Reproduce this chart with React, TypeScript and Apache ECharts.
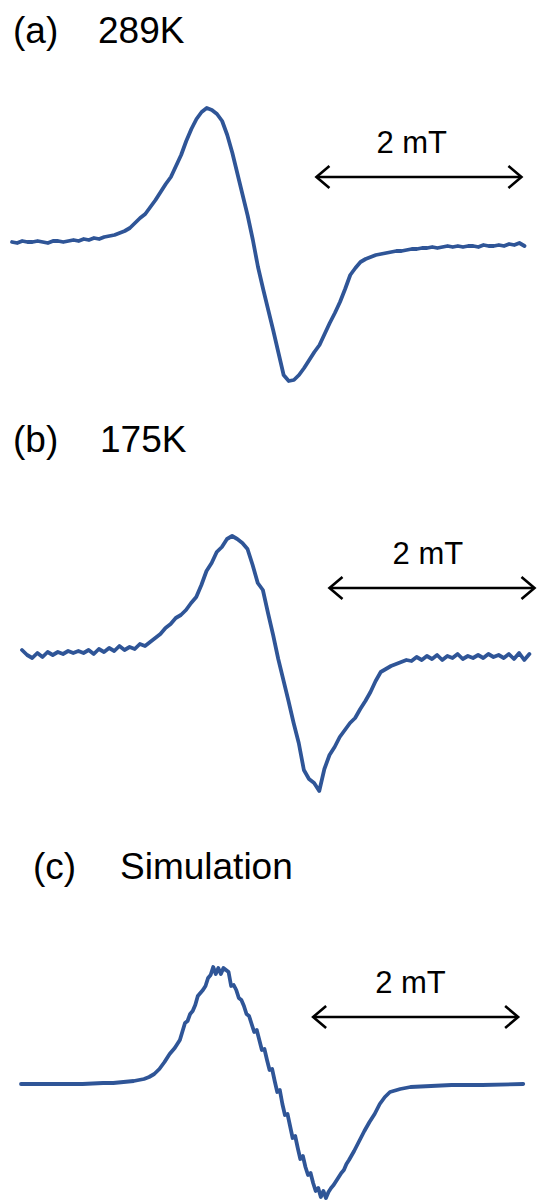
import React, { useEffect, useRef } from "react";
import * as echarts from "echarts";

// ---------- data ----------
// Field axis in mT (offset from the start of each sweep), intensity in arbitrary units.
const FIELD_STEP = 0.05; // mT between recorded points in (a) and (b)

// (a) 289 K spectrum
const SPEC_289K = [
  3, 2, 4, 3, 3, 4, 3, 2, 4, 4,
  3, 4, 5, 4, 6, 5, 7, 6, 8, 9,
  10, 12, 14, 17, 22, 27, 31, 38, 45, 53,
  61, 68, 79, 90, 104, 116, 126, 133, 137, 135,
  131, 124, 110, 92, 71, 50, 29, 5, -22, -44,
  -65, -86, -108, -130, -136, -135, -130, -123, -115, -107,
  -100, -89, -78, -68, -57, -44, -30, -23, -17, -14,
  -12, -10, -9, -8, -7, -6, -6, -5, -4, -4,
  -3, -3, -2, -3, -2, -1, -2, -1, -2, -1,
  -1, -2, 0, -1, -1, 0, -1, 1, 0, 2,
  -1,
];

// (b) 175 K spectrum
const SPEC_175K = [
  5, 0, -3, 2, -2, 3, 0, 3, 1, 4,
  2, 4, 2, 5, 1, 6, 3, 7, 4, 9,
  5, 8, 6, 11, 9, 13, 17, 21, 27, 31,
  37, 40, 45, 52, 58, 70, 84, 92, 103, 108,
  116, 119, 116, 112, 106, 90, 72, 65, 42, 20,
  -4, -25, -46, -68, -88, -115, -124, -128, -136, -114,
  -100, -92, -82, -75, -68, -63, -54, -46, -37, -26,
  -17, -14, -11, -9, -7, -5, -6, -2, -5, -1,
  -4, 0, -5, -1, -3, 1, -4, -1, -3, 0,
  -3, 1, -2, 0, -3, 1, -4, 2, -5, 1,
];

// (c) simulation (field, intensity)
const SIM_FIELD = [
  0, 0.2, 0.4, 0.6, 0.8, 0.9, 1.0, 1.1, 1.2, 1.25,
  1.3, 1.35, 1.4, 1.45, 1.5, 1.55,
  1.6, 1.625, 1.65, 1.675, 1.7, 1.725, 1.75, 1.775, 1.8, 1.825,
  1.85, 1.875, 1.9, 1.925, 1.95, 1.975, 2.0, 2.025, 2.05, 2.075,
  2.1, 2.125, 2.15, 2.175, 2.2, 2.225, 2.25, 2.275, 2.3, 2.325,
  2.35, 2.375, 2.4, 2.425, 2.45, 2.475, 2.5, 2.525, 2.55, 2.575,
  2.6, 2.625, 2.65, 2.675, 2.7, 2.725, 2.75, 2.775, 2.8, 2.825,
  2.85, 2.875, 2.9, 2.925, 2.95, 2.975, 3.0, 3.025, 3.05, 3.075,
  3.1, 3.125, 3.15, 3.175, 3.2,
  3.25, 3.3, 3.35, 3.4, 3.45, 3.5, 3.55, 3.6, 3.7, 3.8,
  4.0, 4.2, 4.5, 4.9,
];
const SIM_INTENSITY = [
  0, 0, 0, 0, 1, 1, 2, 3, 5, 7,
  10, 15, 22, 30, 36, 44,
  61, 63, 70, 73, 79, 88, 91, 94, 98, 106,
  109, 117, 110, 116, 110, 116, 114, 112, 98, 99,
  94, 86, 84, 78, 70, 68, 60, 52, 54, 44,
  34, 35, 24, 14, 15, 3, -8, -6, -20, -31,
  -30, -42, -54, -52, -64, -75, -72, -83, -91, -89,
  -99, -107, -104, -113, -107, -114, -108, -104, -101, -97,
  -93, -89, -86, -80, -76,
  -67, -57, -47, -38, -30, -20, -13, -8, -5, -3,
  -2, -1, -1, 0,
];

// scale bars (2 mT) and their labels, per panel
const BAR_LENGTH = 2; // mT
const BAR_START = [2.97, 3.0, 2.85];
const BAR_LEVEL = [68, 67, 67];
const BAR_LABEL_FIELD = [3.9, 3.96, 3.8];
const BAR_LABEL_LEVEL = [103, 102, 102];
const BAR_LABEL = "2 mT";

// panel titles
const PANEL_TAGS = ["(a)", "(b)", "(c)"];
const PANEL_NAMES = ["289K", "175K", "Simulation"];

// ---------- layout ----------
const W = 537;
const H = 1202;
const PX_PER_MT = 102.5;
const FIELD_MAX = 5.0;
const Y_TOP = [160, 160, 160];
const Y_BOTTOM = [160, 160, 118];
const PANEL_LEFT = [12, 22, 21];
const PANEL_BASE = [245, 655, 1084];
const TITLE_TAG_X = [13, 13, 33];
const TITLE_NAME_X = [98, 100, 120];
const TITLE_Y = [33, 442, 869];

const BLUE = "#2F5597";
const FONT = '"Liberation Sans", Arial, Helvetica, sans-serif';

export default function App() {
  const ref = useRef<HTMLDivElement>(null);

  useEffect(() => {
    document.body.style.margin = "0";
    if (!ref.current) return;
    const chart = echarts.init(ref.current, undefined, { renderer: "svg" });

    const seriesData = [
      SPEC_289K.map((v, i) => [i * FIELD_STEP, v]),
      SPEC_175K.map((v, i) => [i * FIELD_STEP, v]),
      SIM_FIELD.map((f, i) => [f, SIM_INTENSITY[i]]),
    ];

    const grids = PANEL_LEFT.map((left, k) => ({
      left,
      top: PANEL_BASE[k] - Y_TOP[k],
      width: FIELD_MAX * PX_PER_MT,
      height: Y_TOP[k] + Y_BOTTOM[k],
    }));
    const xAxes = PANEL_LEFT.map((_, k) => ({
      type: "value",
      gridIndex: k,
      min: 0,
      max: FIELD_MAX,
      show: false,
    }));
    const yAxes = PANEL_LEFT.map((_, k) => ({
      type: "value",
      gridIndex: k,
      min: -Y_BOTTOM[k],
      max: Y_TOP[k],
      show: false,
    }));

    const lineSeries = seriesData.map((d, k) => ({
      type: "line",
      xAxisIndex: k,
      yAxisIndex: k,
      data: d,
      showSymbol: false,
      smooth: false,
      clip: false,
      lineStyle: { color: BLUE, width: 3.8, join: "round", cap: "round" },
    }));

    const barSeries = PANEL_LEFT.map((_, k) => ({
      type: "custom",
      xAxisIndex: k,
      yAxisIndex: k,
      clip: false,
      data: [[BAR_START[k], BAR_START[k] + BAR_LENGTH, BAR_LEVEL[k], BAR_LABEL_FIELD[k], BAR_LABEL_LEVEL[k]]],
      renderItem: (params: any, api: any) => {
        const lvl = api.value(2);
        const p1 = api.coord([api.value(0), lvl]);
        const p2 = api.coord([api.value(1), lvl]);
        const t = api.coord([api.value(3), api.value(4)]);
        const hx = 13;
        const hy = 11;
        const st = { stroke: "#000", lineWidth: 2.6, fill: "none", lineJoin: "miter" };
        return {
          type: "group",
          children: [
            { type: "line", shape: { x1: p1[0] + 1, y1: p1[1], x2: p2[0] - 1, y2: p2[1] }, style: st },
            {
              type: "polyline",
              shape: { points: [[p1[0] + hx, p1[1] - hy], [p1[0], p1[1]], [p1[0] + hx, p1[1] + hy]] },
              style: st,
            },
            {
              type: "polyline",
              shape: { points: [[p2[0] - hx, p2[1] - hy], [p2[0], p2[1]], [p2[0] - hx, p2[1] + hy]] },
              style: st,
            },
            {
              type: "text",
              x: t[0],
              y: t[1],
              style: {
                text: BAR_LABEL,
                fill: "#000",
                font: `31px ${FONT}`,
                align: "center",
                verticalAlign: "middle",
                textAlign: "center",
                textVerticalAlign: "middle",
              },
            },
          ],
        };
      },
    }));

    const graphics: any[] = [];
    PANEL_TAGS.forEach((tag, k) => {
      graphics.push({
        type: "text",
        left: TITLE_TAG_X[k],
        top: TITLE_Y[k] - 21,
        style: { text: tag, fill: "#000", font: `37px ${FONT}` },
      });
      graphics.push({
        type: "text",
        left: TITLE_NAME_X[k],
        top: TITLE_Y[k] - 21,
        style: { text: PANEL_NAMES[k], fill: "#000", font: `37px ${FONT}` },
      });
    });

    chart.setOption({
      animation: false,
      backgroundColor: "#ffffff",
      grid: grids,
      xAxis: xAxes,
      yAxis: yAxes,
      series: [...lineSeries, ...barSeries],
      graphic: graphics,
    });

    return () => chart.dispose();
  }, []);

  return <div ref={ref} style={{ width: W, height: H }} />;
}
